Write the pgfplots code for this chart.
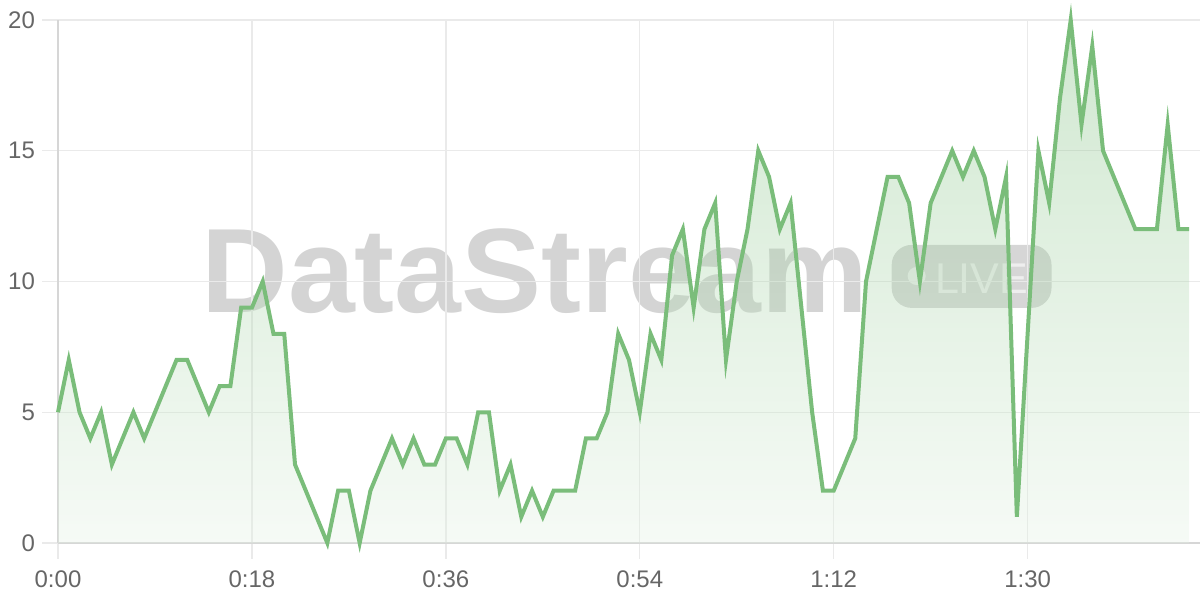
\documentclass[border=0pt]{standalone}
\usepackage{pgfplots}
\pgfplotsset{compat=1.18}
\usepackage{pgfplotstable}
\usepackage{fontspec}
\setmainfont{Liberation Sans}

\definecolor{linegreen}{RGB}{122,189,122}
\definecolor{gridgray}{RGB}{234,234,234}
\definecolor{axisgray}{RGB}{214,214,214}
\definecolor{labelgray}{RGB}{102,102,102}

% seconds since start, value
\pgfplotstableread{
t v
0 5
1 7
2 5
3 4
4 5
5 3
6 4
7 5
8 4
9 5
10 6
11 7
12 7
13 6
14 5
15 6
16 6
17 9
18 9
19 10
20 8
21 8
22 3
23 2
24 1
25 0
26 2
27 2
28 0
29 2
30 3
31 4
32 3
33 4
34 3
35 3
36 4
37 4
38 3
39 5
40 5
41 2
42 3
43 1
44 2
45 1
46 2
47 2
48 2
49 4
50 4
51 5
52 8
53 7
54 5
55 8
56 7
57 11
58 12
59 9
60 12
61 13
62 7
63 10
64 12
65 15
66 14
67 12
68 13
69 9
70 5
71 2
72 2
73 3
74 4
75 10
76 12
77 14
78 14
79 13
80 10
81 13
82 14
83 15
84 14
85 15
86 14
87 12
88 14
89 1
90 8
91 15
92 13
93 17
94 20
95 16
96 19
97 15
98 14
99 13
100 12
101 12
102 12
103 16
104 12
105 12
}\streamdata

\begin{document}
\begin{tikzpicture}
\begin{axis}[
set layers=standard,
scale only axis,
width=571pt,
height=261.5pt,
xmin=0,
xmax=106,
ymin=0,
ymax=20,
clip=false,
axis x line*=bottom,
axis y line*=left,
axis line style={axisgray, line width=1pt, -},
xtick={0,18,36,54,72,90},
xticklabels={0:00,0:18,0:36,0:54,1:12,1:30},
ytick={0,5,10,15,20},
xmajorgrids,
ymajorgrids,
major grid style={gridgray, line width=0.65pt},
tick align=outside,
major tick length=8pt,
major tick style={gridgray, line width=0.65pt},
tick label style={font=\fontsize{12}{14}\selectfont, text=labelgray},
xticklabel style={yshift=-2.3pt},
/pgf/number format/assume math mode=true,
]

% watermark, behind grid and data
\begin{pgfonlayer}{axis background}
\node [anchor=base west, inner sep=0, font=\fontsize{60}{60}\selectfont\bfseries,
text=black, text opacity=0.17] at (axis cs:13.27,8.83) {DataStream};
\fill [black, opacity=0.16, rounded corners=10pt]
(axis cs:77.38,8.99) rectangle (axis cs:92.22,11.40);
\fill [white, opacity=0.6] (axis cs:79.7,10.21) circle [radius=4.5pt];
\node [anchor=base west, inner sep=0, font=\fontsize{21.5}{22}\selectfont,
text=white, text opacity=0.6] at (axis cs:81.37,9.56) {LIVE};
\end{pgfonlayer}

% area under the line
\addplot [draw=none, top color=linegreen, bottom color=linegreen!20!white, fill opacity=0.35]
table [x=t, y=v] {\streamdata} \closedcycle;

% the line
\addplot [color=linegreen, line width=2pt]
table [x=t, y=v] {\streamdata};

\end{axis}
\pgfresetboundingbox
\path [use as bounding box] (-29pt,-28.5pt) rectangle (571pt,271.5pt);
\end{tikzpicture}
\end{document}
